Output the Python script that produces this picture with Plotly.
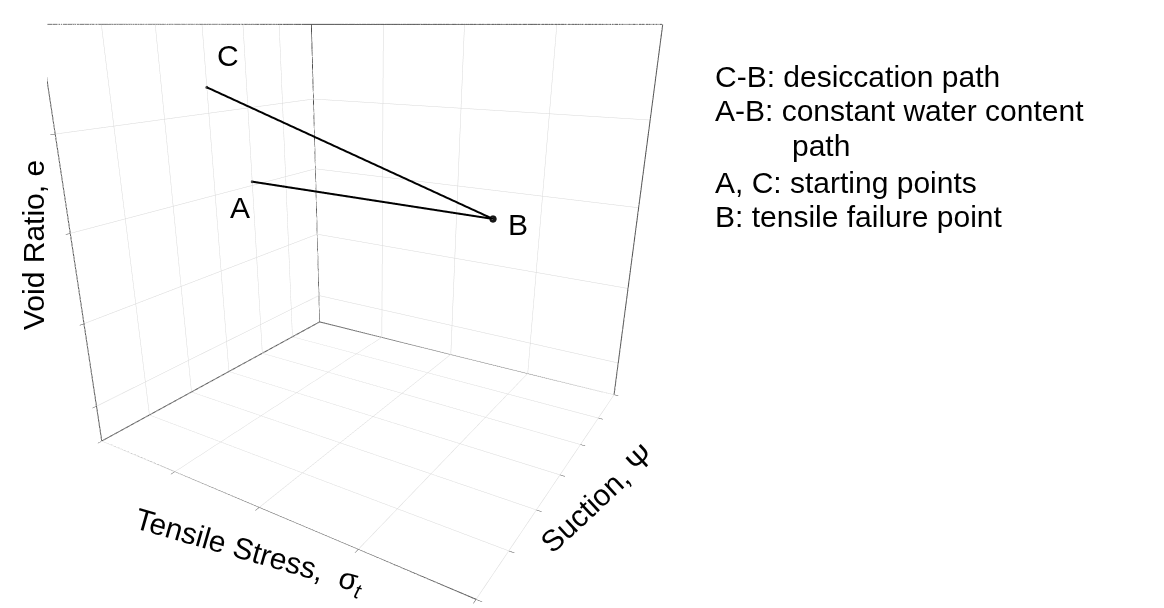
import plotly.graph_objects as go

# Axis ranges (tensile stress, suction, void ratio)
x_range = [0, 4]
y_range = [0, 6]
z_range = [0.55, 5]

# Stress-path points: tensile stress, suction, void ratio
point_names = ["C", "A", "B"]
tensile = [0.0, 0.0, 2.55]
suction = [3.0, 4.0, 5.6]
void_ratio = [4.3, 3.05, 2.7]

axis_titles = ["Tensile Stress,  σ<sub><i>t</i></sub>", "Suction, Ψ", "Void Ratio, e"]

legend_lines = [
    "C-B: desiccation path",
    "A-B: constant water content",
    "path",
    "A, C: starting points",
    "B: tensile failure point",
]

FONT = "Arial, Liberation Sans, sans-serif"
EDGE = "#505050"
W, H = 1164, 608

pts = {n: (tensile[i], suction[i], void_ratio[i]) for i, n in enumerate(point_names)}

fig = go.Figure()

# Frame of the three back panes
x0, x1 = x_range
y0, y1 = y_range
z0, z1 = z_range
edges = [
    ((x0, y0, z0), (x1, y0, z0)),
    ((x1, y0, z0), (x1, y1, z0)),
    ((x1, y1, z0), (x0, y1, z0)),
    ((x0, y1, z0), (x0, y0, z0)),
    ((x0, y0, z0), (x0, y0, z1)),
    ((x0, y1, z0), (x0, y1, z1)),
    ((x1, y1, z0), (x1, y1, z1)),
    ((x0, y0, z1), (x0, y1, z1)),
    ((x0, y1, z1), (x1, y1, z1)),
]
ex, ey, ez = [], [], []
for a, b in edges:
    ex += [a[0], b[0], None]
    ey += [a[1], b[1], None]
    ez += [a[2], b[2], None]
fig.add_trace(go.Scatter3d(x=ex, y=ey, z=ez, mode="lines",
                           line=dict(color=EDGE, width=2),
                           hoverinfo="skip", showlegend=False))

# Stress paths C-B and A-B
for start in ["C", "A"]:
    s, e = pts[start], pts["B"]
    fig.add_trace(go.Scatter3d(
        x=[s[0], e[0]], y=[s[1], e[1]], z=[s[2], e[2]],
        mode="lines+markers",
        line=dict(color="black", width=4),
        marker=dict(color="black", size=[4, 9]),
        showlegend=False,
    ))

label_shift = {"C": (22, 32), "A": (-12, -26), "B": (26, -6)}
annotations3d = []
for n in point_names:
    px, py, pz = pts[n]
    dx, dy = label_shift[n]
    annotations3d.append(dict(
        x=px, y=py, z=pz, text=n, showarrow=False,
        xshift=dx, yshift=dy,
        font=dict(family=FONT, size=30, color="black"),
    ))

axis_common = dict(
    showticklabels=False, title=dict(text=""),
    ticks="outside", ticklen=4, tickcolor=EDGE,
    showgrid=True, gridcolor="#d8d8d8", gridwidth=1,
    showbackground=True, backgroundcolor="white",
    showline=False, zeroline=False, showspikes=False,
)

fig.update_layout(
    width=W, height=H,
    margin=dict(l=0, r=0, t=0, b=0),
    paper_bgcolor="white",
    scene=dict(
        domain=dict(x=[0.04, 0.6], y=[0.0, 1.0]),
        xaxis=dict(range=x_range, dtick=1, tick0=0, **axis_common),
        yaxis=dict(range=y_range, dtick=1, tick0=0, **axis_common),
        zaxis=dict(range=z_range, dtick=1, tick0=0, **axis_common),
        aspectmode="manual",
        aspectratio=dict(x=2.2, y=2.0, z=2.1),
        camera=dict(eye=dict(x=1.961, y=-3.138, z=1.05),
                    up=dict(x=0, y=0, z=1),
                    center=dict(x=0, y=0, z=-0.36),
                    projection=dict(type="perspective")),
        annotations=annotations3d,
    ),
)

# Axis titles set along the box edges
title_pos = [(250, 552, 16), (597, 498, -43), (33, 245, -90)]
for text, (tx, ty, ang) in zip(axis_titles, title_pos):
    fig.add_annotation(
        x=tx / W, y=1 - ty / H, xref="paper", yref="paper",
        xanchor="center", yanchor="middle", showarrow=False,
        text=text, textangle=ang,
        font=dict(family=FONT, size=30, color="black"),
    )

legend_y = [76, 111, 145, 182, 217]
legend_x = [713, 713, 790, 713, 713]
for text, ly, lx in zip(legend_lines, legend_y, legend_x):
    fig.add_annotation(
        x=lx / W, y=1 - ly / H, xref="paper", yref="paper",
        xanchor="left", yanchor="middle", showarrow=False,
        text=text, font=dict(family=FONT, size=30, color="black"),
    )

fig.write_html("out.html")
